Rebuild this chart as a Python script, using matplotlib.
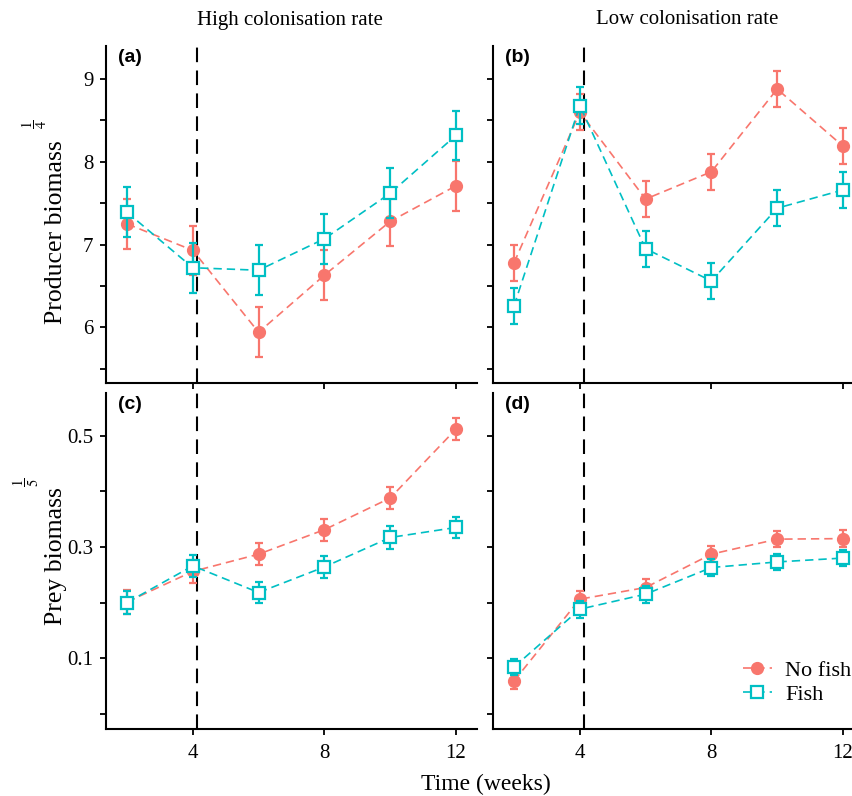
import matplotlib
matplotlib.use('Agg')
import matplotlib.pyplot as plt

plt.rcParams['font.family'] = 'Liberation Serif'
plt.rcParams['mathtext.fontset'] = 'stix'

weeks = [2, 4, 6, 8, 10, 12]

# (a) high colonisation, producer biomass^(1/4)
a_nofish = [7.25, 6.93, 5.94, 6.63, 7.28, 7.71]
a_nofish_se = [0.30, 0.30, 0.30, 0.30, 0.30, 0.30]
a_fish = [7.39, 6.72, 6.69, 7.07, 7.62, 8.32]
a_fish_se = [0.30, 0.30, 0.30, 0.30, 0.30, 0.30]
# (b) low colonisation, producer biomass^(1/4)
b_nofish = [6.78, 8.60, 7.55, 7.88, 8.88, 8.19]
b_nofish_se = [0.22, 0.22, 0.22, 0.22, 0.22, 0.22]
b_fish = [6.26, 8.68, 6.95, 6.56, 7.44, 7.66]
b_fish_se = [0.22, 0.22, 0.22, 0.22, 0.22, 0.22]
# (c) high colonisation, prey biomass^(1/5)
c_nofish = [0.201, 0.256, 0.287, 0.331, 0.388, 0.512]
c_nofish_se = [0.022, 0.020, 0.020, 0.020, 0.020, 0.020]
c_fish = [0.200, 0.266, 0.218, 0.264, 0.317, 0.335]
c_fish_se = [0.020, 0.020, 0.019, 0.020, 0.020, 0.019]
# (d) low colonisation, prey biomass^(1/5)
d_nofish = [0.059, 0.206, 0.227, 0.287, 0.314, 0.315]
d_nofish_se = [0.015, 0.015, 0.015, 0.015, 0.015, 0.015]
d_fish = [0.084, 0.188, 0.215, 0.263, 0.273, 0.280]
d_fish_se = [0.015, 0.015, 0.015, 0.015, 0.015, 0.015]

panel_labels = ['(a)', '(b)', '(c)', '(d)']
col_titles = ['High colonisation rate', 'Low colonisation rate']
top_ticks = [5.5, 6, 6.5, 7, 7.5, 8, 8.5, 9]
top_ticklabels = ['', '6', '', '7', '', '8', '', '9']
bot_ticks = [0.0, 0.1, 0.2, 0.3, 0.4, 0.5]
bot_ticklabels = ['', '0.1', '', '0.3', '', '0.5']
x_ticks = [4, 8, 12]
treatment_week = 4.12

red = '#F8766D'
teal = '#00BFC4'

W, H = 852, 796
fig = plt.figure(figsize=(W / 100, H / 100), dpi=100)

def box(left, top, right, bottom):
    return [left / W, 1 - bottom / H, (right - left) / W, (bottom - top) / H]

ax_a = fig.add_axes(box(106, 46, 477, 383))
ax_b = fig.add_axes(box(493, 46, 864, 383))
ax_c = fig.add_axes(box(106, 393, 477, 729))
ax_d = fig.add_axes(box(493, 393, 864, 729))
axes = [ax_a, ax_b, ax_c, ax_d]

series = [
    (a_nofish, a_nofish_se, a_fish, a_fish_se),
    (b_nofish, b_nofish_se, b_fish, b_fish_se),
    (c_nofish, c_nofish_se, c_fish, c_fish_se),
    (d_nofish, d_nofish_se, d_fish, d_fish_se),
]

for i, ax in enumerate(axes):
    nf, nf_se, f, f_se = series[i]
    ax.axvline(treatment_week, color='black', lw=1.5, ls=(0, (7, 4)), zorder=1)
    ax.errorbar(weeks, nf, yerr=nf_se, fmt='none', ecolor=red,
                elinewidth=1.6, capsize=3, capthick=1.6, zorder=2)
    ax.plot(weeks, nf, color=red, ls=(0, (5, 3)), lw=1.2,
            marker='o', ms=8.5, mfc=red, mec=red, label='No fish', zorder=3)
    ax.errorbar(weeks, f, yerr=f_se, fmt='none', ecolor=teal,
                elinewidth=1.6, capsize=3, capthick=1.6, zorder=4)
    ax.plot(weeks, f, color=teal, ls=(0, (5, 3)), lw=1.2,
            marker='s', ms=8.5, mfc='white', mec=teal, mew=1.6, label='Fish', zorder=5)
    ax.set_xlim(1.36, 12.64)
    ax.set_xticks(x_ticks)
    if i < 2:
        ax.set_ylim(5.327, 9.40)
        ax.set_yticks(top_ticks)
        ax.set_yticklabels(top_ticklabels if i == 0 else [''] * len(top_ticks))
        ax.set_xticklabels([])
    else:
        ax.set_ylim(-0.0276, 0.577)
        ax.set_yticks(bot_ticks)
        ax.set_yticklabels(bot_ticklabels if i == 2 else [''] * len(bot_ticks))
        ax.set_xticklabels([str(t) for t in x_ticks])
    for s in ['top', 'right']:
        ax.spines[s].set_visible(False)
    for s in ['left', 'bottom']:
        ax.spines[s].set_linewidth(1.5)
    ax.tick_params(direction='out', length=4, width=1.3, labelsize=15)
    ax.tick_params(axis='x', pad=7)
    ax.tick_params(axis='y', pad=5)
    ax.text(0.032, 0.967, panel_labels[i], transform=ax.transAxes,
            fontfamily='Liberation Sans', fontweight='bold', fontsize=14,
            ha='left', va='center')

# y axis titles: text plus raised fraction exponent
fig.text(62 / W, 1 - 232 / H, 'Producer biomass', rotation=90, rotation_mode='anchor',
         ha='center', va='baseline', fontsize=18.5)
fig.text(34 / W, 1 - 124 / H, r'$\dfrac{1}{4}$', rotation=90, ha='center', va='center',
         fontsize=10.5)
fig.text(62 / W, 1 - 556 / H, 'Prey biomass', rotation=90, rotation_mode='anchor',
         ha='center', va='baseline', fontsize=18.5)
fig.text(26 / W, 1 - 482 / H, r'$\dfrac{1}{5}$', rotation=90, ha='center', va='center',
         fontsize=10.5)

fig.text(290 / W, 1 - 20 / H, col_titles[0], ha='center', va='center', fontsize=15)
fig.text(687 / W, 1 - 20 / H, col_titles[1], ha='center', va='center', fontsize=15)
fig.text(486 / W, 1 - 784 / H, 'Time (weeks)', ha='center', va='center', fontsize=17)

ax_d.legend(loc='upper left', bbox_to_anchor=(0.674, 0.205), frameon=False,
            fontsize=16, handlelength=1.3, handletextpad=0.6, labelspacing=0.15,
            borderpad=0, borderaxespad=0)

fig.savefig('out.png', dpi=100)
